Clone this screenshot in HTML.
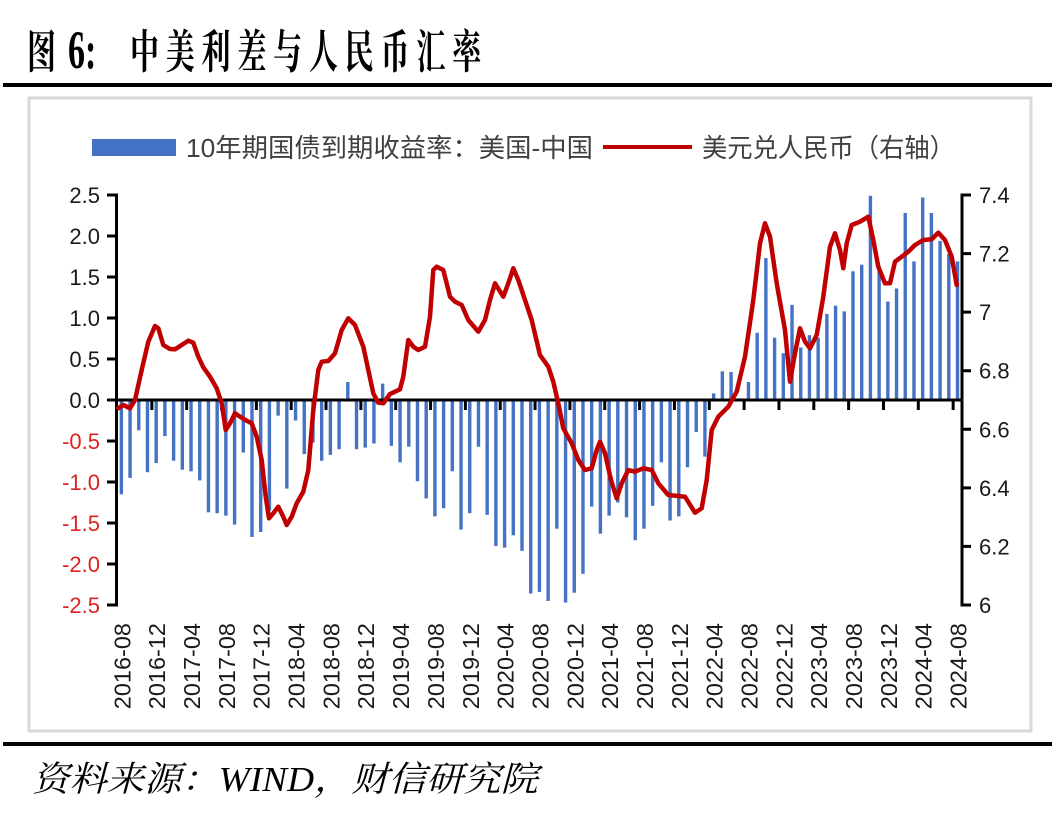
<!DOCTYPE html>
<html>
<head>
<meta charset="utf-8">
<style>
html,body{margin:0;padding:0;background:#fff;}
svg{display:block;}
</style>
</head>
<body>
<svg width="1063" height="816" viewBox="0 0 1063 816" xmlns="http://www.w3.org/2000/svg">
<rect x="0" y="0" width="1063" height="816" fill="#fff"/>

<!-- Title -->
<g transform="scale(0.63,1)" font-weight="bold" fill="#000">
  <text x="42.9" y="68" font-size="46" font-family="'Noto Serif CJK SC','Noto Sans CJK SC',serif">图</text>
  <text x="107.9" y="68" font-size="54" font-family="'Liberation Serif',serif">6:</text>
  <text y="68" font-size="46" font-family="'Noto Serif CJK SC','Noto Sans CJK SC',serif"
    x="206.3 263.1 319.9 376.8 433.6 490.5 547.3 604.1 661.0 717.8">中美利差与人民币汇率</text>
</g>
<rect x="3" y="83" width="1049" height="4" fill="#000"/>

<!-- chart frame -->
<rect x="29" y="98" width="1002" height="633" fill="#fff" stroke="#d9d9d9" stroke-width="3"/>

<!-- Legend -->
<rect x="92" y="139" width="84" height="17" fill="#4472c4"/>
<text x="186" y="157" font-size="26" fill="#404040" font-family="'Liberation Sans','Noto Sans CJK SC',sans-serif" textLength="407" lengthAdjust="spacingAndGlyphs">10年期国债到期收益率：美国-中国</text>
<line x1="603" y1="147" x2="692" y2="147" stroke="#c00000" stroke-width="4"/>
<text x="702" y="157" font-size="26" fill="#404040" font-family="'Liberation Sans','Noto Sans CJK SC',sans-serif" textLength="253" lengthAdjust="spacingAndGlyphs">美元兑人民币（右轴）</text>

<!-- Bars -->
<g fill="#4472c4">
<rect x="119.65" y="400" width="3.4" height="94.3"/>
<rect x="128.36" y="400" width="3.4" height="77.9"/>
<rect x="137.07" y="400" width="3.4" height="30.3"/>
<rect x="145.78" y="400" width="3.4" height="72.2"/>
<rect x="154.49" y="400" width="3.4" height="63.1"/>
<rect x="163.20" y="400" width="3.4" height="36.1"/>
<rect x="171.91" y="400" width="3.4" height="60.7"/>
<rect x="180.62" y="400" width="3.4" height="69.7"/>
<rect x="189.33" y="400" width="3.4" height="71.3"/>
<rect x="198.04" y="400" width="3.4" height="80.4"/>
<rect x="206.75" y="400" width="3.4" height="112.3"/>
<rect x="215.46" y="400" width="3.4" height="113.2"/>
<rect x="224.17" y="400" width="3.4" height="115.6"/>
<rect x="232.88" y="400" width="3.4" height="124.6"/>
<rect x="241.59" y="400" width="3.4" height="52.5"/>
<rect x="250.30" y="400" width="3.4" height="136.9"/>
<rect x="259.01" y="400" width="3.4" height="132.0"/>
<rect x="267.72" y="400" width="3.4" height="110.7"/>
<rect x="276.43" y="400" width="3.4" height="15.6"/>
<rect x="285.14" y="400" width="3.4" height="88.6"/>
<rect x="293.85" y="400" width="3.4" height="20.5"/>
<rect x="302.56" y="400" width="3.4" height="54.1"/>
<rect x="311.27" y="400" width="3.4" height="42.6"/>
<rect x="319.98" y="400" width="3.4" height="60.7"/>
<rect x="328.69" y="400" width="3.4" height="54.9"/>
<rect x="337.40" y="400" width="3.4" height="49.2"/>
<rect x="346.11" y="382.0" width="3.4" height="18.0"/>
<rect x="354.82" y="400" width="3.4" height="49.2"/>
<rect x="363.53" y="400" width="3.4" height="47.6"/>
<rect x="372.24" y="400" width="3.4" height="43.5"/>
<rect x="380.95" y="383.6" width="3.4" height="16.4"/>
<rect x="389.66" y="400" width="3.4" height="45.9"/>
<rect x="398.37" y="400" width="3.4" height="62.3"/>
<rect x="407.08" y="400" width="3.4" height="46.7"/>
<rect x="415.79" y="400" width="3.4" height="81.2"/>
<rect x="424.50" y="400" width="3.4" height="98.4"/>
<rect x="433.21" y="400" width="3.4" height="116.4"/>
<rect x="441.92" y="400" width="3.4" height="108.2"/>
<rect x="450.63" y="400" width="3.4" height="71.3"/>
<rect x="459.34" y="400" width="3.4" height="129.6"/>
<rect x="468.05" y="400" width="3.4" height="113.2"/>
<rect x="476.76" y="400" width="3.4" height="46.7"/>
<rect x="485.47" y="400" width="3.4" height="114.8"/>
<rect x="494.18" y="400" width="3.4" height="146.0"/>
<rect x="502.89" y="400" width="3.4" height="147.6"/>
<rect x="511.60" y="400" width="3.4" height="135.3"/>
<rect x="520.31" y="400" width="3.4" height="150.9"/>
<rect x="529.02" y="400" width="3.4" height="193.5"/>
<rect x="537.73" y="400" width="3.4" height="191.9"/>
<rect x="546.44" y="400" width="3.4" height="200.9"/>
<rect x="555.15" y="400" width="3.4" height="128.7"/>
<rect x="563.86" y="400" width="3.4" height="202.5"/>
<rect x="572.57" y="400" width="3.4" height="192.7"/>
<rect x="581.28" y="400" width="3.4" height="173.8"/>
<rect x="589.99" y="400" width="3.4" height="106.6"/>
<rect x="598.70" y="400" width="3.4" height="133.7"/>
<rect x="607.41" y="400" width="3.4" height="115.6"/>
<rect x="616.12" y="400" width="3.4" height="102.5"/>
<rect x="624.83" y="400" width="3.4" height="117.3"/>
<rect x="633.54" y="400" width="3.4" height="140.2"/>
<rect x="642.25" y="400" width="3.4" height="128.7"/>
<rect x="650.96" y="400" width="3.4" height="105.8"/>
<rect x="659.67" y="400" width="3.4" height="62.3"/>
<rect x="668.38" y="400" width="3.4" height="120.5"/>
<rect x="677.09" y="400" width="3.4" height="116.4"/>
<rect x="685.80" y="400" width="3.4" height="67.2"/>
<rect x="694.51" y="400" width="3.4" height="32.0"/>
<rect x="703.22" y="400" width="3.4" height="56.6"/>
<rect x="711.93" y="393.4" width="3.4" height="6.6"/>
<rect x="720.64" y="371.3" width="3.4" height="28.7"/>
<rect x="729.35" y="372.1" width="3.4" height="27.9"/>
<rect x="738.06" y="398.4" width="3.4" height="1.6"/>
<rect x="746.77" y="382.0" width="3.4" height="18.0"/>
<rect x="755.48" y="332.8" width="3.4" height="67.2"/>
<rect x="764.19" y="258.1" width="3.4" height="141.9"/>
<rect x="772.90" y="337.7" width="3.4" height="62.3"/>
<rect x="781.61" y="353.3" width="3.4" height="46.7"/>
<rect x="790.32" y="304.9" width="3.4" height="95.1"/>
<rect x="799.03" y="347.5" width="3.4" height="52.5"/>
<rect x="807.74" y="335.2" width="3.4" height="64.8"/>
<rect x="816.45" y="337.7" width="3.4" height="62.3"/>
<rect x="825.16" y="313.9" width="3.4" height="86.1"/>
<rect x="833.87" y="305.7" width="3.4" height="94.3"/>
<rect x="842.58" y="311.4" width="3.4" height="88.6"/>
<rect x="851.29" y="271.3" width="3.4" height="128.7"/>
<rect x="860.00" y="264.7" width="3.4" height="135.3"/>
<rect x="868.71" y="195.8" width="3.4" height="204.2"/>
<rect x="877.42" y="266.3" width="3.4" height="133.7"/>
<rect x="886.13" y="301.6" width="3.4" height="98.4"/>
<rect x="894.84" y="288.5" width="3.4" height="111.5"/>
<rect x="903.55" y="213.0" width="3.4" height="187.0"/>
<rect x="912.26" y="261.4" width="3.4" height="138.6"/>
<rect x="920.97" y="197.5" width="3.4" height="202.5"/>
<rect x="929.68" y="213.0" width="3.4" height="187.0"/>
<rect x="938.39" y="240.9" width="3.4" height="159.1"/>
<rect x="947.10" y="254.0" width="3.4" height="146.0"/>
<rect x="955.81" y="261.4" width="3.4" height="138.6"/>
</g>

<!-- Axes -->
<g stroke="#000" stroke-width="3" fill="none">
  <line x1="116.5" y1="193.5" x2="116.5" y2="606.5"/>
  <line x1="962" y1="193.5" x2="962" y2="606.5"/>
  <line x1="116" y1="400" x2="962" y2="400"/>
  <path d="M107 195H117 M107 236H117 M107 277H117 M107 318H117 M107 359H117 M107 400H117 M107 441H117 M107 482H117 M107 523H117 M107 564H117 M107 605H117"/>
  <path d="M962 195H971 M962 253.6H971 M962 312.1H971 M962 370.7H971 M962 429.3H971 M962 487.9H971 M962 546.4H971 M962 605H971"/>
  <path d="M151.84 400V410 M186.68 400V410 M221.52 400V410 M256.36 400V410 M291.2 400V410 M326.04 400V410 M360.88 400V410 M395.72 400V410 M430.56 400V410 M465.4 400V410 M500.24 400V410 M535.08 400V410 M569.92 400V410 M604.76 400V410 M639.6 400V410 M674.44 400V410 M709.28 400V410 M744.12 400V410 M778.96 400V410 M813.8 400V410 M848.64 400V410 M883.48 400V410 M918.32 400V410 M953.16 400V410"/>
</g>

<!-- Line series -->
<polyline fill="none" stroke="#c00000" stroke-width="4.5" stroke-linejoin="round" stroke-linecap="round"
points="118.3,408.3 123.3,405 130,408.3 135,400 141.7,370 148.3,341.7 155,326 158.3,328.3 163.3,345 170,349 175,349.3 181.7,345 188.3,340.7 193.3,342.7 198.3,356.7 203.3,367.3 210,376.7 216.7,388.3 221.7,403.3 225.7,430 230,423.3 235,413.3 240,416.7 246.7,420.7 251.7,423.3 256.7,436.7 261.7,460 265.7,496.7 269,518.3 273.3,513.3 278.3,506.7 283.3,516.7 286.7,525 291.7,516.7 296.7,503.3 303.3,491.7 308.3,470 313.3,410 318.3,370 321.7,361.7 328.3,361 335,353.3 341.7,330 348.3,318.3 355,325 363.3,346.7 368.3,370 373.3,393.3 378.3,402.7 383.3,403.3 390,394 395,391.7 400,389.3 403.3,376.7 408.3,340 413.3,346.7 418.3,350 425,346.7 430,316.7 433.3,270 436.7,266.7 443.3,270 450,296.7 455,301.7 461.7,305 468.3,320 478.3,331.7 485,320 490,300 495,283.3 503.3,296.7 508.3,283.3 513.3,268.3 518.3,280 525,300 531.7,320 540,355 548.3,366.7 553.3,381.7 558.3,403.3 563.3,428.3 571.7,443.3 578.3,460 585,470 591.7,468.3 596.7,450 600,441.7 605,453.3 611,480 616.7,498.3 621.7,483.3 628.3,470 635,471.7 643.3,468.3 651.7,470 658.3,483.3 668.3,495 678.3,496 685,496.7 695,512.7 701.7,508.3 706.7,480 711.7,430 718.3,416.7 728.3,406.7 736.7,391.7 745,356.7 753.3,300 760,243.3 765,223.3 770,236.7 776.7,283.3 785,330 790,381.7 795,353.3 800,328.3 805,341.7 810,348.3 816.7,335 823.3,296.7 830,246.7 835,233.3 840,250 843.3,268.3 846.7,243.3 851.7,225 860,221.7 868.3,216.7 873.3,240 878.3,266.7 885,283.3 890,283.3 895,261.7 901.7,256.7 908.3,251.7 915,245 923.3,240 931.7,239.3 938.3,232.7 945,240 951.7,256.7 956.7,285"/>

<!-- Left axis labels -->
<g font-family="'Liberation Sans',sans-serif" font-size="22" text-anchor="end">
  <g fill="#1a1a1a">
    <text x="100" y="203">2.5</text>
    <text x="100" y="244">2.0</text>
    <text x="100" y="285">1.5</text>
    <text x="100" y="326">1.0</text>
    <text x="100" y="367">0.5</text>
    <text x="100" y="408">0.0</text>
  </g>
  <g fill="#dc2323">
    <text x="100" y="449">-0.5</text>
    <text x="100" y="490">-1.0</text>
    <text x="100" y="531">-1.5</text>
    <text x="100" y="572">-2.0</text>
    <text x="100" y="613">-2.5</text>
  </g>
</g>

<!-- Right axis labels -->
<g font-family="'Liberation Sans',sans-serif" font-size="22" fill="#1a1a1a">
  <text x="979" y="203">7.4</text>
  <text x="979" y="261.6">7.2</text>
  <text x="979" y="320.1">7</text>
  <text x="979" y="378.7">6.8</text>
  <text x="979" y="437.3">6.6</text>
  <text x="979" y="495.9">6.4</text>
  <text x="979" y="554.4">6.2</text>
  <text x="979" y="613">6</text>
</g>

<!-- X labels -->
<g font-family="'Liberation Sans',sans-serif" font-size="23.5" fill="#1a1a1a" text-anchor="end" dominant-baseline="central">
  <text transform="translate(122.4,623) rotate(-90)">2016-08</text>
  <text transform="translate(157.2,623) rotate(-90)">2016-12</text>
  <text transform="translate(192.0,623) rotate(-90)">2017-04</text>
  <text transform="translate(226.9,623) rotate(-90)">2017-08</text>
  <text transform="translate(261.7,623) rotate(-90)">2017-12</text>
  <text transform="translate(296.6,623) rotate(-90)">2018-04</text>
  <text transform="translate(331.4,623) rotate(-90)">2018-08</text>
  <text transform="translate(366.2,623) rotate(-90)">2018-12</text>
  <text transform="translate(401.1,623) rotate(-90)">2019-04</text>
  <text transform="translate(435.9,623) rotate(-90)">2019-08</text>
  <text transform="translate(470.8,623) rotate(-90)">2019-12</text>
  <text transform="translate(505.6,623) rotate(-90)">2020-04</text>
  <text transform="translate(540.4,623) rotate(-90)">2020-08</text>
  <text transform="translate(575.3,623) rotate(-90)">2020-12</text>
  <text transform="translate(610.1,623) rotate(-90)">2021-04</text>
  <text transform="translate(645.0,623) rotate(-90)">2021-08</text>
  <text transform="translate(679.8,623) rotate(-90)">2021-12</text>
  <text transform="translate(714.6,623) rotate(-90)">2022-04</text>
  <text transform="translate(749.5,623) rotate(-90)">2022-08</text>
  <text transform="translate(784.3,623) rotate(-90)">2022-12</text>
  <text transform="translate(819.2,623) rotate(-90)">2023-04</text>
  <text transform="translate(854.0,623) rotate(-90)">2023-08</text>
  <text transform="translate(888.8,623) rotate(-90)">2023-12</text>
  <text transform="translate(923.7,623) rotate(-90)">2024-04</text>
  <text transform="translate(958.5,623) rotate(-90)">2024-08</text>
</g>

<!-- bottom rule and source -->
<rect x="3" y="742" width="1049" height="4" fill="#000"/>
<text x="32" y="791" font-size="35" font-style="italic" fill="#000" font-family="'Liberation Serif','Noto Serif CJK SC',serif" textLength="506" lengthAdjust="spacingAndGlyphs">资料来源：WIND，财信研究院</text>
</svg>
</body>
</html>
